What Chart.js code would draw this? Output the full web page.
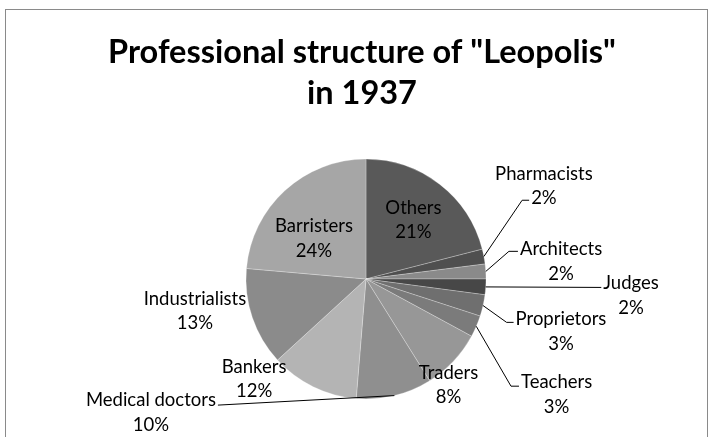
<!DOCTYPE html>
<html>
<head>
<meta charset="utf-8">
<script src="https://cdn.jsdelivr.net/npm/chart.js@4.4.0/dist/chart.umd.min.js"></script>
<style>
  html, body { margin: 0; padding: 0; background: #ffffff; }
  #wrap { position: relative; width: 714px; height: 437px; overflow: hidden; }
  #frame { position: absolute; left: 5px; top: 9px; width: 703px; height: 500px; border: 1.5px solid #8a8a8a; box-sizing: border-box; }
  canvas { position: absolute; left: 0; top: 0; }
</style>
</head>
<body>
<div id="wrap">
  <div id="frame"></div>
  <canvas id="c" width="714" height="437"></canvas>
</div>
<script>
const titleLines = ['Professional structure of "Leopolis"', 'in 1937'];
const categories = ['Others', 'Pharmacists', 'Architects', 'Judges', 'Proprietors', 'Teachers', 'Traders', 'Medical doctors', 'Bankers', 'Industrialists', 'Barristers'];
const values = [21.0, 2.0, 2.0, 2.1, 2.9, 2.9, 8.2, 10.2, 11.9, 13.2, 23.6];
const sliceColors = ['#595959', '#4f4f4f', '#8a8a8a', '#474747', '#6f6f6f', '#7b7b7b', '#979797', '#8f8f8f', '#b4b4b4', '#8b8b8b', '#a6a6a6'];

// label placement: distance (fraction of radius) and angle (deg clockwise from top) from pie centre
const labelPlacement = [
  { dist: 0.631, angle: 38.8 },
  { dist: 1.673, angle: 62.4, leader: { line: 1, side: -1, elbow: 7, dy: 2 } },
  { dist: 1.632, angle: 84.9, leader: { line: 0, side: -1, elbow: 9, dy: 2 } },
  { dist: 2.213, angle: 93.6, leader: { line: 0, side: -1, elbow: 0, dy: 4 } },
  { dist: 1.683, angle: 105.1, leader: { line: 0, side: -1, elbow: 7, dy: 3 } },
  { dist: 1.857, angle: 121.2, leader: { line: 0, side: -1, elbow: 8, dy: 4 } },
  { dist: 1.119, angle: 142.1 },
  { dist: 2.109, angle: 238.2, leader: { line: 0, side: 1, elbow: 0, dy: 5 } },
  { dist: 1.251, angle: 228.2 },
  { dist: 1.45, angle: 259.4 },
  { dist: 0.549, angle: 307.9 }
];

const titlePlugin = {
  id: 'drawTitle',
  afterDraw(chart) {
    const ctx = chart.ctx;
    ctx.save();
    ctx.font = 'bold 32.5px Lato';
    ctx.fillStyle = '#000000';
    ctx.textAlign = 'center';
    ctx.textBaseline = 'alphabetic';
    ctx.fillText(titleLines[0], 362, 63);
    ctx.fillText(titleLines[1], 362, 104);
    ctx.restore();
  }
};

const labelPlugin = {
  id: 'sliceLabels',
  afterDatasetsDraw(chart) {
    const ctx = chart.ctx;
    const meta = chart.getDatasetMeta(0);
    const total = values.reduce((a, b) => a + b, 0);
    ctx.save();
    ctx.font = '18.5px Lato';
    ctx.fillStyle = '#000000';
    ctx.strokeStyle = '#000000';
    ctx.lineWidth = 1;
    ctx.textAlign = 'center';
    ctx.textBaseline = 'middle';
    const lh = 24.5;
    meta.data.forEach((arc, i) => {
      const { x, y, outerRadius, startAngle, endAngle } = arc.getProps(['x', 'y', 'outerRadius', 'startAngle', 'endAngle'], true);
      const p = labelPlacement[i];
      const phi = p.angle * Math.PI / 180;
      const cx = x + p.dist * outerRadius * Math.sin(phi);
      const cy = y - p.dist * outerRadius * Math.cos(phi);
      const lines = [categories[i], Math.round(values[i] / total * 100) + '%'];
      lines.forEach((t, j) => ctx.fillText(t, cx, cy + (j - 0.5) * lh));
      if (p.leader) {
        const mid = (startAngle + endAngle) / 2;
        const sx = x + outerRadius * Math.cos(mid);
        const sy = y + outerRadius * Math.sin(mid);
        const L = p.leader;
        const w = ctx.measureText(lines[L.line]).width;
        const ly = cy + (L.line - 0.5) * lh + L.dy;
        const ex = cx + L.side * (w / 2 + 2);
        const bx = ex + L.side * L.elbow;
        ctx.beginPath();
        ctx.moveTo(sx, sy);
        ctx.lineTo(bx, ly);
        ctx.lineTo(ex, ly);
        ctx.stroke();
      }
    });
    ctx.restore();
  }
};

new Chart(document.getElementById('c'), {
  type: 'pie',
  data: {
    labels: categories,
    datasets: [{
      data: values,
      backgroundColor: sliceColors,
      borderColor: 'rgba(255,255,255,0.35)',
      borderWidth: 0.75,
      hoverOffset: 0,
      offset: 0,
      radius: 120
    }]
  },
  options: {
    responsive: false,
    animation: false,
    events: [],
    rotation: 0,
    layout: { padding: { top: 159, bottom: 38, left: 118, right: 100 } },
    plugins: {
      legend: { display: false },
      tooltip: { enabled: false },
      title: { display: false }
    }
  },
  plugins: [labelPlugin, titlePlugin]
});
</script>
</body>
</html>
